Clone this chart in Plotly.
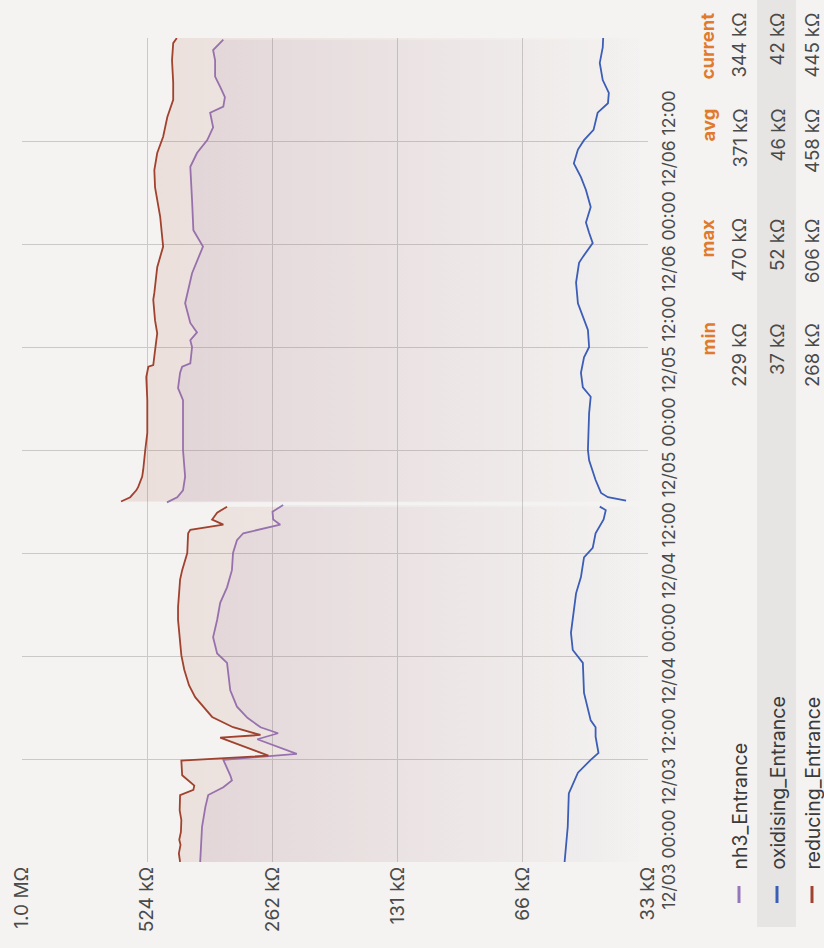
import math
import plotly.graph_objects as go
from datetime import datetime, timedelta

# ---------------- data ----------------
start_time = "2023-12-03 00:00"
span_hours = 96
tick_hours = [0, 12, 24, 36, 48, 60, 72, 84]

value_ticks = [2**15, 2**16, 2**17, 2**18, 2**19, 2**20]          # ohm
value_tick_text = ["33 kΩ", "66 kΩ", "131 kΩ", "262 kΩ", "524 kΩ", "1.0 MΩ"]

# hours since start, kΩ values; None marks the gap in the data
reducing_hours = [0.0, 1.0, 2.0, 2.6, 3.5, 4.9, 6.0, 7.2, 7.8, 8.4, 8.9, 10.1, 11.5, 11.8, 12.4,
                  14.5, 14.8, 15.7, 16.9, 18.1, 19.2, 20.6, 22.4, 24.1, 25.9, 28.2, 29.7, 32.9,
                  34.0, 36.0, 38.3, 38.7, 39.3, 39.9, 40.7, 41.4, 41.7,
                  42.0, 42.5, 43.3, 43.7, 44.9, 45.7, 48.0, 50.0, 53.8, 56.5, 57.7, 57.9, 59.6,
                  61.6, 63.1, 65.5, 66.3, 69.3, 71.7, 75.2, 78.6, 80.6, 82.6, 84.5, 86.8, 88.8,
                  90.8, 93.4, 95.4, 96.0]
reducing_kohm = [437, 440, 436, 439, 435, 434, 438, 437, 437, 406, 404, 432, 434, 434, 268,
                 350, 280, 326, 366, 385, 402, 416, 427, 434, 437, 442, 442, 437,
                 432, 420, 418, 413, 344, 366, 356, 337, None,
                 606, 576, 557, 551, 539, 536, 530, 524, 524, 527, 521, 507, 502,
                 496, 502, 507, 504, 496, 480, 488, 502, 504, 496, 480, 469, 454,
                 454, 457, 454, 445]

nh3_hours = [0.0, 2.0, 4.1, 6.4, 7.8, 8.7, 9.5, 10.1, 11.5, 11.9, 12.6, 14.3, 15.0, 15.7,
             16.8, 18.1, 20.0, 23.2, 24.3, 26.2, 28.2, 30.2, 32.0, 34.0, 36.0, 37.5, 38.3,
             39.3, 39.9, 40.8, 41.6, 41.75,
             41.9, 42.5, 43.3, 44.9, 48.0, 53.8, 55.2, 57.0, 57.7, 58.1, 60.0, 60.8, 61.7,
             62.8, 65.1, 68.6, 71.7, 73.6, 77.1, 81.0, 82.6, 84.1, 85.6, 87.3, 88.0, 89.1,
             90.3, 91.5, 93.4, 94.6, 95.8]
nh3_kohm = [391, 389, 387, 380, 374, 344, 328, 331, 341, 344, 229, 285, 254, 280,
            301, 319, 331, 337, 356, 364, 356, 350, 337, 328, 326, 319, 308,
            251, 261, 262, 247, None,
            470, 444, 430, 425, 430, 430, 442, 437, 432, 413, 409, 413, 398,
            413, 425, 409, 385, 406, 409, 413, 398, 376, 364, 370, 344, 341,
            350, 360, 360, 364, 344]

oxidising_hours = [0.0, 4.1, 8.0, 10.4, 11.9, 12.7, 14.6, 15.7, 16.5, 19.7, 23.2, 23.9, 24.7,
                   26.7, 29.0, 31.3, 33.2, 35.5, 36.6, 38.3, 39.9, 41.0, 41.4, 41.75,
                   42.1, 42.5, 43.0, 44.5, 46.8, 48.0, 52.3, 54.2, 55.3, 57.0, 58.8, 60.0, 62.0,
                   63.5, 65.1, 67.5, 69.8, 70.5, 72.1, 73.3, 74.5, 76.3, 78.3, 79.8, 81.4,
                   83.0, 84.1, 85.3, 87.3, 88.4, 89.6, 91.1, 93.1, 94.9, 96.0]
oxidising_kohm = [52.0, 51.1, 50.8, 48.3, 45.0, 43.1, 43.8, 43.8, 45.0, 46.7, 47.0, 48.3, 49.7,
                  50.2, 49.4, 48.8, 47.5, 46.7, 44.5, 43.8, 41.9, 41.4, 42.8, None,
                  37.0, 40.9, 42.5, 43.8, 45.4, 45.7, 45.4, 45.0, 47.0, 47.5, 46.7, 45.4, 45.7,
                  47.0, 48.3, 48.8, 48.0, 47.0, 44.5, 45.4, 46.2, 45.0, 46.2, 47.5, 49.4,
                  48.3, 46.7, 44.3, 43.3, 40.9, 40.7, 42.1, 42.8, 42.1, 42.0]

series_names = ["nh3_Entrance", "oxidising_Entrance", "reducing_Entrance"]
stat_headers = ["min", "max", "avg", "current"]
stats = {
    "nh3_Entrance": ["229 kΩ", "470 kΩ", "371 kΩ", "344 kΩ"],
    "oxidising_Entrance": ["37 kΩ", "52 kΩ", "46 kΩ", "42 kΩ"],
    "reducing_Entrance": ["268 kΩ", "606 kΩ", "458 kΩ", "445 kΩ"],
}

# ---------------- styling ----------------
colors = {
    "nh3_Entrance": (150, 118, 186),
    "oxidising_Entrance": (58, 94, 184),
    "reducing_Entrance": (160, 66, 46),
}
BG = "#f4f3f1"
FONT = "Inter"
TXT = "#4a4a4a"
GRID = "#cbc9c7"
VAL_SIZE = 19
TIME_SIZE = 17.5
LEG_SIZE = 18.5
NAME_SIZE = 19.5
W, H = 824, 948
L, R, T, B = 22, 176, 38, 86   # plot area margins (px)
PW, PH = W - L - R, H - T - B

t0 = datetime.strptime(start_time, "%Y-%m-%d %H:%M")
def ts(h):
    return t0 + timedelta(hours=h)

def segments(hours, vals):
    segs, ch, cv = [], [], []
    for h, v in zip(hours, vals):
        if v is None:
            if ch:
                segs.append((ch, cv))
            ch, cv = [], []
        else:
            ch.append(h)
            cv.append(v * 1000)
    if ch:
        segs.append((ch, cv))
    return segs

fig = go.Figure()
floor_val = value_ticks[0]
top_val = value_ticks[-1]

data = {
    "nh3_Entrance": (nh3_hours, nh3_kohm),
    "oxidising_Entrance": (oxidising_hours, oxidising_kohm),
    "reducing_Entrance": (reducing_hours, reducing_kohm),
}

for name in series_names:
    r, g, b = colors[name]
    hrs, vals = data[name]
    for hs, vs in segments(hrs, vals):
        ys = [ts(h) for h in hs]
        fig.add_trace(go.Scatter(
            x=[floor_val, floor_val], y=[ys[0], ys[-1]], mode="lines",
            line=dict(width=0), hoverinfo="skip", showlegend=False))
        fig.add_trace(go.Scatter(
            x=vs, y=ys, mode="lines", name=name, showlegend=False,
            line=dict(color=f"rgb({r},{g},{b})", width=1.8),
            fill="tonextx",
            fillgradient=dict(
                type="horizontal",
                colorscale=[[0, f"rgba({r},{g},{b},0.0)"], [1, f"rgba({r},{g},{b},0.14)"]],
                start=floor_val, stop=top_val),
        ))

fig.update_layout(
    width=W, height=H,
    margin=dict(l=L, r=R, t=T, b=B, autoexpand=False),
    paper_bgcolor=BG, plot_bgcolor=BG,
    font=dict(family=FONT, size=VAL_SIZE, color=TXT),
    showlegend=False,
)

fig.update_xaxes(
    type="log", automargin=False,
    range=[math.log10(top_val), math.log10(floor_val)],
    tickvals=value_ticks, ticktext=value_tick_text,
    tickangle=-90, showgrid=True, gridcolor=GRID, gridwidth=1.2,
    zeroline=False, showline=False, ticks="",
    tickfont=dict(size=VAL_SIZE, color=TXT),
)
fig.update_yaxes(
    type="date", automargin=False,
    range=[ts(0), ts(span_hours)],
    tickvals=[ts(h) for h in tick_hours],
    tickformat="%m/%d %H:%M",
    side="right", tickangle=-90, ticklabelstandoff=8,
    showgrid=True, gridcolor=GRID, gridwidth=1.2,
    zeroline=False, showline=False, ticks="",
    tickfont=dict(size=TIME_SIZE, color=TXT),
)

# ---------------- legend table (rotated) ----------------
def px(xp):
    return (xp - L) / PW
def py(yp):
    return (H - B - yp) / PH

row_x = {"nh3_Entrance": 739, "oxidising_Entrance": 777, "reducing_Entrance": 812}
col_top = [321, 217, 107, 11]
header_x = 707

# highlighted row band
fig.add_shape(type="rect", xref="paper", yref="paper",
              x0=px(757), x1=px(796), y0=py(927), y1=py(0),
              fillcolor="#e6e5e3", line=dict(width=0), layer="below")

for hdr, yt in zip(stat_headers, col_top):
    fig.add_annotation(xref="paper", yref="paper", x=px(header_x), y=py(yt),
                       text=f"<b>{hdr}</b>", showarrow=False, textangle=-90,
                       xanchor="center", yanchor="top",
                       font=dict(size=LEG_SIZE, color="#e07a2c", family=FONT))

for name in series_names:
    r, g, b = colors[name]
    xr = row_x[name]
    fig.add_shape(type="line", xref="paper", yref="paper",
                  x0=px(xr), x1=px(xr), y0=py(903), y1=py(886),
                  line=dict(color=f"rgb({r},{g},{b})", width=3))
    fig.add_annotation(xref="paper", yref="paper", x=px(xr), y=py(872),
                       text=name, showarrow=False, textangle=-90,
                       xanchor="center", yanchor="bottom",
                       font=dict(size=NAME_SIZE, color="#3a3a3a", family=FONT))
    for val, yt in zip(stats[name], col_top):
        fig.add_annotation(xref="paper", yref="paper", x=px(xr), y=py(yt),
                           text=val, showarrow=False, textangle=-90,
                           xanchor="center", yanchor="top",
                           font=dict(size=LEG_SIZE, color=TXT, family=FONT))

fig.write_html(
    "out.html",
    config={"displayModeBar": False},
    post_script="document.body.style.margin='0';document.body.style.background='%s';" % BG,
)
